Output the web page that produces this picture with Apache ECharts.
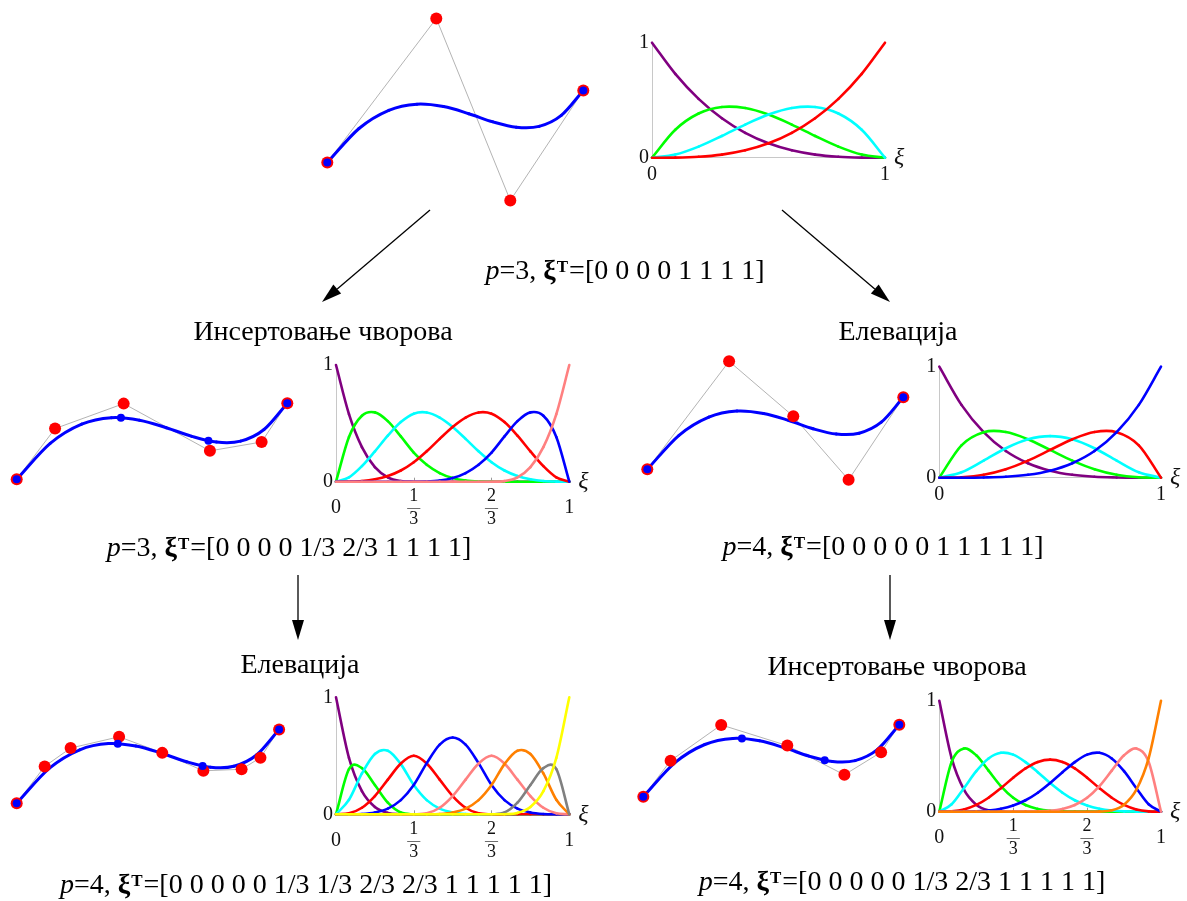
<!DOCTYPE html>
<html>
<head>
<meta charset="utf-8">
<script src="https://cdn.jsdelivr.net/npm/echarts@6/dist/echarts.min.js"></script>
<style>
html, body { margin: 0; padding: 0; background: #fff; }
#main { width: 1187px; height: 901px; }
</style>
</head>
<body>
<div id="main"></div>
<script>
// the spline curve (same in every panel), local units
var curveX = [0, 31.7, 61.5, 89.6, 116.2, 141.5, 165.7, 189.1, 211.8, 234.0, 256];
var curveY = [0, 34.0, 52.2, 58.3, 55.9, 48.8, 40.6, 35.2, 36.1, 47.1, 72];
// points of the curve at the inner knots 1/3 and 2/3
var knotPtX = [98.6, 181.4];
var knotPtY = [58.2, 36.4];

// control polygons
var ctrlAX = [0, 109, 183, 256];
var ctrlAY = [0, 144, -38, 72];
var ctrlBX = [0, 36.3, 101.2, 182.8, 231.7, 256];
var ctrlBY = [0, 48, 71.6, 26.9, 35.3, 72];
var ctrlCX = [0, 81.8, 146, 201.3, 256];
var ctrlCY = [0, 108, 53, -10.5, 72];
var ctrlDX = [0, 27.3, 52.6, 99.9, 142, 182.1, 219.4, 237.8, 256];
var ctrlDY = [0, 36, 53.9, 64.9, 49.2, 31.7, 33.2, 44.5, 72];
var ctrlEX = [0, 27.3, 77.9, 144, 201.1, 237.8, 256];
var ctrlEY = [0, 36, 71.8, 51.1, 21.9, 44.5, 72];

// sample positions on ξ
var xs10 = [0, 0.1, 0.2, 0.3, 0.4, 0.5, 0.6, 0.7, 0.8, 0.9, 1];
var xs18 = [0, 0.0556, 0.1111, 0.1667, 0.2222, 0.2778, 0.3333, 0.3889, 0.4444, 0.5,
            0.5556, 0.6111, 0.6667, 0.7222, 0.7778, 0.8333, 0.8889, 0.9444, 1];

// basis functions, p=3, [0 0 0 0 1 1 1 1]
var bernA0 = [1, .729, .512, .343, .216, .125, .064, .027, .008, .001, 0];
var bernA1 = [0, .243, .384, .441, .432, .375, .288, .189, .096, .027, 0];
var bernA2 = [0, .027, .096, .189, .288, .375, .432, .441, .384, .243, 0];
var bernA3 = [0, .001, .008, .027, .064, .125, .216, .343, .512, .729, 1];

// p=4, [0 0 0 0 0 1 1 1 1 1]
var bernC0 = [1, .656, .410, .240, .130, .063, .026, .008, .002, 0, 0];
var bernC1 = [0, .292, .410, .412, .346, .25, .154, .076, .026, .004, 0];
var bernC2 = [0, .049, .154, .265, .346, .375, .346, .265, .154, .049, 0];
var bernC3 = [0, .004, .026, .076, .154, .25, .346, .412, .410, .292, 0];
var bernC4 = [0, 0, .002, .008, .026, .063, .130, .240, .410, .656, 1];

// p=3, [0 0 0 0 1/3 2/3 1 1 1 1]
var splB0 = [1, .579, .296, .125, .037, .005, 0, 0, 0, 0, 0, 0, 0, 0, 0, 0, 0, 0, 0];
var splB1 = [0, .383, .565, .594, .519, .388, .25, .145, .074, .031, .009, .001, 0, 0, 0, 0, 0, 0, 0];
var splB2 = [0, .037, .133, .260, .395, .511, .583, .593, .549, .469, .367, .261, .167, .096, .049, .021, .006, .001, 0];
var splB3 = [0, .001, .006, .021, .049, .096, .167, .261, .367, .469, .549, .593, .583, .511, .395, .260, .133, .037, 0];
var splB4 = [0, 0, 0, 0, 0, 0, 0, .001, .009, .031, .074, .145, .25, .388, .519, .594, .565, .383, 0];
var splB5 = [0, 0, 0, 0, 0, 0, 0, 0, 0, 0, 0, 0, 0, .005, .037, .125, .296, .579, 1];

// p=4, [0 0 0 0 0 1/3 1/3 2/3 2/3 1 1 1 1 1]
var splD0 = [1, .482, .198, .063, .012, .001, 0, 0, 0, 0, 0, 0, 0, 0, 0, 0, 0, 0, 0];
var splD1 = [0, .386, .395, .25, .099, .015, 0, 0, 0, 0, 0, 0, 0, 0, 0, 0, 0, 0, 0];
var splD2 = [0, .124, .349, .516, .543, .429, .25, .121, .049, .016, .003, 0, 0, 0, 0, 0, 0, 0, 0];
var splD3 = [0, .008, .056, .156, .296, .434, .5, .434, .296, .156, .056, .008, 0, 0, 0, 0, 0, 0, 0];
var splD4 = [0, 0, .003, .016, .049, .121, .25, .437, .596, .656, .596, .437, .25, .121, .049, .016, .003, 0, 0];
var splD5 = [0, 0, 0, 0, 0, 0, 0, .008, .056, .156, .296, .434, .5, .434, .296, .156, .056, .008, 0];
var splD6 = [0, 0, 0, 0, 0, 0, 0, 0, .003, .016, .049, .121, .25, .429, .543, .516, .349, .124, 0];
var splD7 = [0, 0, 0, 0, 0, 0, 0, 0, 0, 0, 0, 0, 0, .015, .099, .25, .395, .386, 0];
var splD8 = [0, 0, 0, 0, 0, 0, 0, 0, 0, 0, 0, 0, 0, .001, .012, .063, .198, .482, 1];

// p=4, [0 0 0 0 0 1/3 2/3 1 1 1 1 1]
var splE0 = [1, .482, .198, .063, .012, .001, 0, 0, 0, 0, 0, 0, 0, 0, 0, 0, 0, 0, 0];
var splE1 = [0, .448, .569, .508, .370, .230, .125, .060, .025, .008, .002, 0, 0, 0, 0, 0, 0, 0, 0];
var splE2 = [0, .067, .212, .365, .480, .531, .514, .447, .355, .258, .171, .103, .056, .027, .011, .003, .001, 0, 0];
var splE3 = [0, .003, .020, .061, .126, .212, .306, .390, .448, .469, .448, .390, .306, .212, .126, .061, .020, .003, 0];
var splE4 = [0, 0, .001, .003, .011, .027, .056, .103, .171, .258, .355, .447, .514, .531, .480, .365, .212, .067, 0];
var splE5 = [0, 0, 0, 0, 0, 0, 0, 0, .002, .008, .025, .060, .125, .230, .370, .508, .569, .448, 0];
var splE6 = [0, 0, 0, 0, 0, 0, 0, 0, 0, 0, 0, 0, 0, .001, .012, .063, .198, .482, 1];

// knot vectors and titles
var knotsA = ['0', '0', '0', '0', '1', '1', '1', '1'];
var knotsB = ['0', '0', '0', '0', '1/3', '2/3', '1', '1', '1', '1'];
var knotsC = ['0', '0', '0', '0', '0', '1', '1', '1', '1', '1'];
var knotsD = ['0', '0', '0', '0', '0', '1/3', '1/3', '2/3', '2/3', '1', '1', '1', '1', '1'];
var knotsE = ['0', '0', '0', '0', '0', '1/3', '2/3', '1', '1', '1', '1', '1'];
var titleInsert = 'Инсертовање чворова';
var titleElev = 'Елевација';

var PURPLE = '#800080', GREEN = '#00ff00', CYAN = '#00ffff', RED = '#ff0000', BLUE = '#0000ff',
    PINK = '#ff8080', ORANGE = '#ff8000', GRAY = '#808080', YELLOW = '#ffff00';
var SERIF = '"Liberation Serif", "DejaVu Serif", serif';

var grids = [], xAxes = [], yAxes = [], series = [], graphics = [];

function zip(xs, ys) {
    var out = [];
    for (var i = 0; i < xs.length; i++) out.push([xs[i], ys[i]]);
    return out;
}

// smooth line through the points: one cubic segment per data item (Catmull-Rom style)
function smoothLine(idx, pts, color, width, z) {
    series.push({
        type: 'custom', xAxisIndex: idx, yAxisIndex: idx, data: pts, silent: true, z: z, clip: false,
        renderItem: function (params, api) {
            var i = params.dataIndex, n = pts.length;
            if (i >= n - 1) return null;
            var p1 = api.coord(pts[i]), p2 = api.coord(pts[i + 1]);
            var p0 = i > 0 ? api.coord(pts[i - 1]) : [2 * p1[0] - p2[0], 2 * p1[1] - p2[1]];
            var p3 = i < n - 2 ? api.coord(pts[i + 2]) : [2 * p2[0] - p1[0], 2 * p2[1] - p1[1]];
            return {
                type: 'bezierCurve',
                shape: {
                    x1: p1[0], y1: p1[1], x2: p2[0], y2: p2[1],
                    cpx1: p1[0] + (p2[0] - p0[0]) / 6, cpy1: p1[1] + (p2[1] - p0[1]) / 6,
                    cpx2: p2[0] - (p3[0] - p1[0]) / 6, cpy2: p2[1] - (p3[1] - p1[1]) / 6
                },
                style: {stroke: color, lineWidth: width, fill: null, lineCap: 'round'}
            };
        }
    });
}

// panel with control polygon and curve; ox, oy = pixel of first control point
function curvePanel(ox, oy, k, cx, cy, withKnots) {
    var idx = grids.length;
    var xmin = -15, xmax = 271, ymin = -50, ymax = 155;
    grids.push({left: ox + xmin * k, top: oy - ymax * k, width: (xmax - xmin) * k, height: (ymax - ymin) * k});
    xAxes.push({type: 'value', gridIndex: idx, min: xmin, max: xmax, show: false});
    yAxes.push({type: 'value', gridIndex: idx, min: ymin, max: ymax, show: false});
    var blue = [[curveX[0], curveY[0]], [curveX[curveX.length - 1], curveY[curveY.length - 1]]];
    if (withKnots) blue = blue.concat(zip(knotPtX, knotPtY));
    series.push({
        type: 'line', xAxisIndex: idx, yAxisIndex: idx, data: zip(cx, cy), showSymbol: false,
        lineStyle: {color: '#b4b4b4', width: 1}, clip: false, silent: true, z: 1
    });
    smoothLine(idx, zip(curveX, curveY), BLUE, 3, 2);
    series.push({
        type: 'scatter', xAxisIndex: idx, yAxisIndex: idx, data: zip(cx, cy), symbolSize: 12,
        itemStyle: {color: RED, opacity: 1}, clip: false, silent: true, z: 3
    });
    series.push({
        type: 'scatter', xAxisIndex: idx, yAxisIndex: idx, data: blue, symbolSize: 8,
        itemStyle: {color: BLUE, opacity: 1}, clip: false, silent: true, z: 4
    });
}

function tickLabel(v) {
    var n = Math.round(v * 3);
    if (n === 1 || n === 2) return '{n|' + n + '}\n{l|—}\n{n|3}';
    return '{m|' + Math.round(v) + '}';
}

// panel with basis functions
function basisPanel(left, top, width, height, xs, funcs, colors, thirds, labelGap) {
    var idx = grids.length;
    grids.push({left: left, top: top, width: width, height: height});
    xAxes.push({
        type: 'value', gridIndex: idx, min: 0, max: 1,
        axisLine: {lineStyle: {color: '#c8c8c8', width: 1}},
        axisTick: {show: thirds, inside: true, length: 4, customValues: [1 / 3, 2 / 3], lineStyle: {color: '#999'}},
        splitLine: {show: false},
        axisLabel: {
            customValues: thirds ? [0, 1 / 3, 2 / 3, 1] : [0, 1],
            formatter: tickLabel, verticalAlign: 'middle', margin: labelGap,
            rich: {
                m: {fontFamily: SERIF, fontSize: 20, color: '#111'},
                n: {fontFamily: SERIF, fontSize: 18, color: '#111', lineHeight: 17, align: 'center'},
                l: {fontFamily: SERIF, fontSize: 13, color: '#111', lineHeight: 6, align: 'center'}
            }
        },
        name: 'ξ', nameLocation: 'end', nameGap: 9,
        nameTextStyle: {fontFamily: SERIF, fontStyle: 'italic', fontSize: 24, color: '#111', verticalAlign: 'middle'}
    });
    yAxes.push({
        type: 'value', gridIndex: idx, min: 0, max: 1, interval: 1,
        axisLine: {show: true, lineStyle: {color: '#c8c8c8', width: 1}},
        axisTick: {show: false}, splitLine: {show: false},
        axisLabel: {fontFamily: SERIF, fontSize: 20, color: '#111', margin: 3}
    });
    for (var i = 0; i < funcs.length; i++) {
        smoothLine(idx, zip(xs, funcs[i]), colors[i], 2.6, 2 + i);
    }
}

function arrow(x1, y1, x2, y2) {
    var dx = x2 - x1, dy = y2 - y1, len = Math.sqrt(dx * dx + dy * dy);
    var ux = dx / len, uy = dy / len, hl = 20, hw = 6;
    var bx = x2 - ux * hl, by = y2 - uy * hl;
    graphics.push({type: 'line', shape: {x1: x1, y1: y1, x2: bx, y2: by}, style: {stroke: '#000', lineWidth: 1.3}, silent: true});
    graphics.push({
        type: 'polygon', shape: {points: [[x2, y2], [bx - uy * hw, by + ux * hw], [bx + uy * hw, by - ux * hw]]},
        style: {fill: '#000'}, silent: true
    });
}

var textRich = {
    r: {fontFamily: SERIF, fontSize: 28, color: '#000', lineHeight: 32},
    i: {fontFamily: SERIF, fontSize: 28, fontStyle: 'italic', color: '#000', lineHeight: 32},
    b: {fontFamily: SERIF, fontSize: 28, fontWeight: 'bold', color: '#000', lineHeight: 32},
    s: {fontFamily: SERIF, fontSize: 17, fontWeight: 'bold', color: '#000', lineHeight: 17, verticalAlign: 'top', padding: [3, 1, 0, 1]}
};

function knotText(cx, cy, p, knots) {
    graphics.push({
        type: 'text', x: cx, y: cy, silent: true,
        style: {
            text: '{i|p}{r|=' + p + ', }{b|ξ}{s|T}{r|=[' + knots.join(' ') + ']}',
            align: 'center', verticalAlign: 'middle', rich: textRich
        }
    });
}

function title(cx, cy, txt) {
    graphics.push({
        type: 'text', x: cx, y: cy, silent: true,
        style: {text: txt, fontFamily: SERIF, fontSize: 28, fill: '#000', align: 'center', verticalAlign: 'middle'}
    });
}

// top: original curve
curvePanel(327.3, 162.5, 1.0, ctrlAX, ctrlAY, false);
basisPanel(652, 42.7, 233, 115, xs10, [bernA0, bernA1, bernA2, bernA3], [PURPLE, GREEN, CYAN, RED], false, 17);
knotText(625, 272, 3, knotsA);

// middle left: knot insertion
title(323, 333, titleInsert);
curvePanel(16.7, 479.3, 1.057, ctrlBX, ctrlBY, true);
basisPanel(336, 365, 233.3, 116.7, xs18, [splB0, splB1, splB2, splB3, splB4, splB5],
    [PURPLE, GREEN, CYAN, RED, BLUE, PINK], true, 26);
knotText(289, 549, 3, knotsB);

// middle right: degree elevation
title(898, 333, titleElev);
curvePanel(647.3, 469.3, 1.0, ctrlCX, ctrlCY, false);
basisPanel(939.3, 366.7, 221.7, 111, xs10, [bernC0, bernC1, bernC2, bernC3, bernC4],
    [PURPLE, GREEN, CYAN, RED, BLUE], false, 17);
knotText(883, 548, 4, knotsC);

// bottom left: insertion then elevation
title(300, 666, titleElev);
curvePanel(16.7, 803.3, 1.025, ctrlDX, ctrlDY, true);
basisPanel(336, 697.3, 233.3, 117, xs18, [splD0, splD1, splD2, splD3, splD4, splD5, splD6, splD7, splD8],
    [PURPLE, GREEN, CYAN, RED, BLUE, PINK, ORANGE, GRAY, YELLOW], true, 26);
knotText(306, 886, 4, knotsD);

// bottom right: elevation then insertion
title(897, 668, titleInsert);
curvePanel(643.3, 796.7, 1.0, ctrlEX, ctrlEY, true);
basisPanel(939.3, 700.7, 221.7, 111, xs18, [splE0, splE1, splE2, splE3, splE4, splE5, splE6],
    [PURPLE, GREEN, CYAN, RED, BLUE, PINK, ORANGE], true, 26);
knotText(902, 883, 4, knotsE);

arrow(430, 210, 322, 302);
arrow(782, 210, 890, 302);
arrow(298, 575, 298, 640);
arrow(890, 575, 890, 640);

var myChart = echarts.init(document.getElementById('main'));
myChart.setOption({
    backgroundColor: '#fff',
    animation: false,
    grid: grids,
    xAxis: xAxes,
    yAxis: yAxes,
    series: series,
    graphic: graphics
});
</script>
</body>
</html>
